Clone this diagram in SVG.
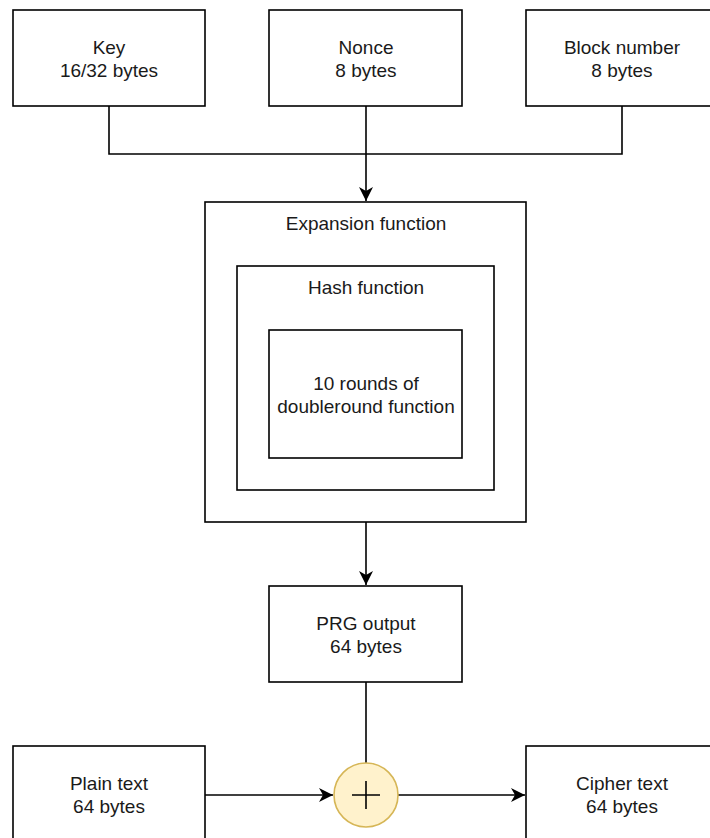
<svg xmlns="http://www.w3.org/2000/svg" width="710" height="838" viewBox="0 0 710 838">
<style>
.box{fill:#fff;stroke:#000;stroke-width:1.6}
.t{font-family:"Liberation Sans",Arial,sans-serif;font-size:19px;fill:#1a1a1a;text-anchor:middle}
.c{fill:none;stroke:#000;stroke-width:1.6}
</style>
<defs>
<marker id="a" markerUnits="userSpaceOnUse" markerWidth="16" markerHeight="16" viewBox="-14 -7 16 14" refX="0" refY="0" orient="auto">
<path d="M0,0 L-14,-7 L-10,0 L-14,7 Z" fill="#000"/>
</marker>
</defs>
<rect width="710" height="838" fill="#fff"/>
<g id="connectors">
<path class="c" d="M109,106 V154 H622 V106"/>
<path class="c" d="M366,106 V201" marker-end="url(#a)"/>
<path class="c" d="M366,522 V585" marker-end="url(#a)"/>
<path class="c" d="M366,682 V763"/>
<path class="c" d="M205,795 H333" marker-end="url(#a)"/>
<path class="c" d="M398,795 H525" marker-end="url(#a)"/>
</g>
<g id="key"><rect class="box" x="13" y="10" width="192" height="96"/><text class="t" x="109" y="54">Key</text><text class="t" x="109" y="77">16/32 bytes</text></g>
<g id="nonce"><rect class="box" x="269" y="10" width="193" height="96"/><text class="t" x="366" y="54">Nonce</text><text class="t" x="366" y="77">8 bytes</text></g>
<g id="block"><rect class="box" x="526" y="10" width="193" height="96"/><text class="t" x="622" y="54">Block number</text><text class="t" x="622" y="77">8 bytes</text></g>
<g id="expansion"><rect class="box" x="205" y="202" width="321" height="320"/><text class="t" x="366" y="230">Expansion function</text></g>
<g id="hash"><rect class="box" x="237" y="266" width="257" height="224"/><text class="t" x="366" y="294">Hash function</text></g>
<g id="rounds"><rect class="box" x="269" y="330" width="193" height="128"/><text class="t" x="366" y="390">10 rounds of</text><text class="t" x="366" y="413">doubleround function</text></g>
<g id="prg"><rect class="box" x="269" y="586" width="193" height="96"/><text class="t" x="366" y="630">PRG output</text><text class="t" x="366" y="653">64 bytes</text></g>
<g id="plain"><rect class="box" x="13" y="746" width="192" height="100"/><text class="t" x="109" y="790">Plain text</text><text class="t" x="109" y="813">64 bytes</text></g>
<g id="xor"><circle cx="366" cy="795" r="32" fill="#fff2cc" stroke="#d6b656" stroke-width="1.6"/><path d="M352,795 H380 M366,781 V809" stroke="#000" stroke-width="1.6" fill="none"/></g>
<g id="cipher"><rect class="box" x="526" y="746" width="193" height="100"/><text class="t" x="622" y="790">Cipher text</text><text class="t" x="622" y="813">64 bytes</text></g>
</svg>
